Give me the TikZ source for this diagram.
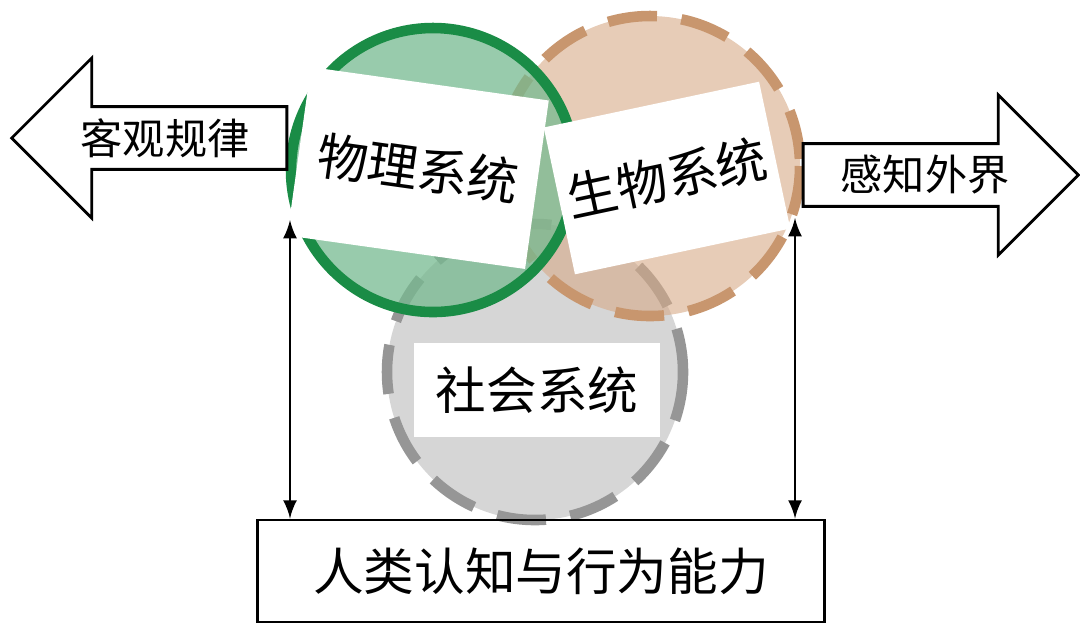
\documentclass[tikz,border=0pt]{standalone}
\usepackage{fontspec}
\setmainfont{Noto Sans CJK SC}
\usetikzlibrary{shapes.arrows}
\definecolor{leafgreen}{RGB}{26,140,70}
\definecolor{tanline}{RGB}{200,150,110}
\definecolor{tanfill}{RGB}{215,170,135}
\definecolor{greyline}{RGB}{150,150,150}
\tikzset{
  sysbox/.style={fill=white, inner sep=0pt, font=\Large},
  bigarrow/.style={draw, thick, single arrow, fill=white, minimum height=2.75cm,
    minimum width=1.6cm, single arrow head extend=0.38cm, font=\large, inner sep=1pt},
  link/.style={<->, >=latex, thick}
}
\begin{document}
\begin{tikzpicture}[x=0.01cm,y=-0.01cm]
\useasboundingbox (0,0) rectangle (1080,638);
% three systems
\draw[greyline, line width=3pt, dash pattern=on 14pt off 7pt, fill=gray!40, fill opacity=0.8] (535,372) circle (148);
\draw[tanline, line width=3pt, dash pattern=on 14pt off 7pt, fill=tanfill, fill opacity=0.6] (650,166) circle (150);
\draw[leafgreen, line width=3pt, fill=leafgreen!60, fill opacity=0.75] (433,170) circle (142);
\node[sysbox, rotate=-8, minimum width=2.4cm, minimum height=1.7cm] (wuli) at (418,168) {\textit{物理系统}};
\node[sysbox, rotate=12, minimum width=2.2cm, minimum height=1.5cm] (shengwu) at (667,178) {\textit{生物系统}};
\node[sysbox, minimum width=2.45cm, minimum height=0.94cm] (shehui) at (537,390) {社会系统};
% side arrows
\node[bigarrow, shape border rotate=180] (guilv) at (165,138) {客观规律};
\node[bigarrow] (waijie) at (925,175) {感知外界};
% human ability
\node[draw, thick, minimum width=5.67cm, minimum height=1.02cm, font=\Large] (renlei) at (541,571) {人类认知与行为能力};
\coordinate (l1) at (290,220);
\coordinate (r1) at (795,218);
\draw[link] (l1) -- (l1 |- renlei.north);
\draw[link] (r1) -- (r1 |- renlei.north);
\end{tikzpicture}
\end{document}
